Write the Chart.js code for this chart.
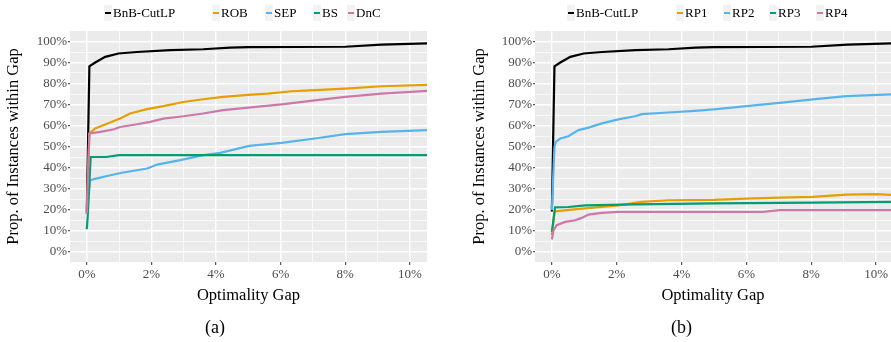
<!DOCTYPE html>
<html>
<head>
<meta charset="utf-8">
<script src="https://cdn.jsdelivr.net/npm/chart.js@4.4.1/dist/chart.umd.min.js"></script>
<style>
    body { margin: 0; width: 891px; height: 342px; position: relative; background: #fff; overflow: hidden;
           font-family: "Liberation Serif", "Times New Roman", serif; }
    canvas { position: absolute; top: 0; }
    .key { position: absolute; top: 5px; width: 8px; height: 16px; background: #f2f2f2; }
    .key i { position: absolute; left: 1px; right: 1px; top: 7px; height: 2.4px; }
    .lab { position: absolute; top: 5px; font-size: 13px; line-height: 16px; color: #000; }
    .cap { position: absolute; top: 316px; font-size: 18px; line-height: 22px; color: #000; }
</style>
</head>
<body>
<canvas id="chartA" width="445" height="342" style="left:0"></canvas>
<canvas id="chartB" width="446" height="342" style="left:445px"></canvas>
<div id="legendA"></div>
<div id="legendB"></div>
<div class="cap" style="left:205px">(a)</div>
<div class="cap" style="left:671px">(b)</div>

<script>
// Data: [optimality gap %, proportion of instances %]
// ----------------------------------------------
const bnbCutLP = [[0,19],[0.08,88.2],[0.26,90],[0.57,92.7],[0.98,94.3],[1.55,95],[2.58,95.9],[3.6,96.3],[4.44,97.1],[5.0,97.3],[8.0,97.5],[9.12,98.5],[10.53,99.1]];

// Panel (a)
const rob = [[0,18],[0.08,56.2],[0.26,58.6],[0.51,60.1],[1.03,63.3],[1.34,65.7],[1.86,67.8],[2.37,69.2],[2.99,71.2],[3.6,72.5],[4.22,73.6],[5.0,74.6],[5.6,75.2],[6.34,76.3],[7.06,76.8],[8.0,77.6],[9.12,78.7],[10.53,79.3]];
const sep = [[0,18],[0.1,34],[0.32,34.8],[0.73,36.3],[1.13,37.6],[1.87,39.5],[2.18,41.4],[2.89,43.5],[3.61,45.9],[4.13,47],[5.03,50.3],[6.03,51.7],[7.06,53.8],[8.0,55.9],[9.12,57],[10.53,57.8]];
const bs  = [[0,10.6],[0.03,17],[0.12,45],[0.6,45],[1.0,45.9],[10.53,45.9]];
const dnc = [[0,18],[0.08,56.2],[0.42,57],[0.84,58.2],[1.03,59.3],[1.55,60.6],[1.96,61.7],[2.37,63.3],[2.99,64.4],[3.6,65.7],[4.22,67.3],[5.0,68.5],[6.03,70.1],[7.06,72],[8.0,73.6],[9.12,75.2],[10.53,76.5]];

// Panel (b)
const rp1 = [[0,7.8],[0.08,18.9],[0.15,19.2],[1.03,20.5],[2.05,22],[2.77,23.6],[3.59,24.4],[5.0,24.6],[6.0,25.2],[7.02,25.7],[8.05,26],[9.08,27.1],[10,27.3],[10.46,27]];
const rp2 = [[0,19.7],[0.08,49.8],[0.12,52.2],[0.26,53.8],[0.51,54.9],[0.82,57.8],[1.13,59],[1.54,61],[2.05,62.9],[2.57,64.4],[2.77,65.4],[3.59,66.2],[4.41,67],[5.0,67.7],[6.0,69.2],[7.02,70.8],[8.05,72.4],[9.08,74],[10.46,74.8]];
const rp3 = [[0,9.3],[0.1,21],[0.51,21.2],[1.03,22],[2.57,22.4],[5.0,22.9],[8.05,23.3],[10.46,23.6]];
const rp4 = [[0,5.7],[0.05,10.1],[0.15,12.5],[0.41,14.1],[0.72,14.9],[0.92,16],[1.13,17.6],[1.54,18.4],[2.05,18.9],[6.5,18.9],[7.02,19.7],[10.46,19.7]];

const labelsA = ['BnB-CutLP', 'ROB', 'SEP', 'BS', 'DnC'];
const labelsB = ['BnB-CutLP', 'RP1', 'RP2', 'RP3', 'RP4'];
const xTicks = [0,1,2,3,4,5,6,7,8,9,10];
const yTicks = [0,5,10,15,20,25,30,35,40,45,50,55,60,65,70,75,80,85,90,95,100];


// Styles
// ----------------------------------------------
const palette   = ['#000000', '#E69F00', '#56B4E9', '#009E73', '#CC79A7'];
const serif     = '"Liberation Serif", "Times New Roman", serif';
const tickGrey  = '#4d4d4d';


// Grey panel behind the plot
const panelBg = {
    id: 'panelBg',
    beforeDraw(chart) {
        const { ctx, chartArea: a } = chart;
        ctx.save();
        ctx.fillStyle = '#ebebeb';
        ctx.fillRect(a.left, a.top, a.right - a.left, a.bottom - a.top);
        ctx.restore();
    }
};


let makePanel = (id, labels, series, xMax, pad, yWidth) => {
    return new Chart(document.getElementById(id), {
        type: 'line',
        data: {
            datasets: series.map((s, i) => ({
                label: labels[i],
                data: s,
                borderColor: palette[i],
                backgroundColor: palette[i],
                borderWidth: 2.2,
                pointRadius: 0,
                tension: 0,
                order: series.length - i
            }))
        },
        options: {
            responsive: false,
            animation: false,
            layout: { padding: pad },
            plugins: {
                legend: { display: false },
                tooltip: { enabled: false }
            },
            scales: {
                x: {
                    type: 'linear',
                    min: -0.52,
                    max: xMax,
                    afterBuildTicks: s => { s.ticks = xTicks.map(v => ({ value: v })); },
                    afterFit: s => { s.height = 44; },
                    border: { display: false },
                    grid: {
                        color: '#ffffff',
                        lineWidth: c => (c.tick && c.tick.value % 2 === 0) ? 1.4 : 0.7,
                        tickLength: 3,
                        tickColor: c => (c.tick && c.tick.value % 2 === 0) ? '#333333' : 'rgba(0,0,0,0)',
                        tickWidth: 1
                    },
                    ticks: {
                        padding: 2,
                        color: tickGrey,
                        font: { family: serif, size: 13 },
                        maxRotation: 0,
                        autoSkip: false,
                        callback: v => v % 2 === 0 ? v + '%' : ''
                    },
                    title: {
                        display: true,
                        text: 'Optimality Gap',
                        color: '#000',
                        padding: 0,
                        font: { family: serif, size: 16.5 }
                    }
                },
                y: {
                    min: -5,
                    max: 105,
                    afterBuildTicks: s => { s.ticks = yTicks.map(v => ({ value: v })); },
                    afterFit: s => { s.width = yWidth; },
                    border: { display: false },
                    grid: {
                        color: '#ffffff',
                        lineWidth: c => (c.tick && c.tick.value % 10 === 0) ? 1.4 : 0.7,
                        tickLength: 2,
                        tickColor: c => (c.tick && c.tick.value % 10 === 0) ? '#333333' : 'rgba(0,0,0,0)',
                        tickWidth: 1
                    },
                    ticks: {
                        padding: 1,
                        color: tickGrey,
                        font: { family: serif, size: 13 },
                        autoSkip: false,
                        callback: v => v % 10 === 0 ? v + '%' : ''
                    },
                    title: {
                        display: true,
                        text: 'Prop. of Instances within Gap',
                        color: '#000',
                        padding: 0,
                        font: { family: serif, size: 16.5 }
                    }
                }
            }
        },
        plugins: [panelBg]
    });
};


// Legend row above each panel
// ----------------------------------------------
let makeLegend = (id, labels, keyLeft) => {
    const box = document.getElementById(id);
    labels.forEach((name, i) => {
        const key = document.createElement('div');
        key.className = 'key';
        key.style.left = keyLeft[i] + 'px';
        key.innerHTML = '<i style="background:' + palette[i] + '"></i>';
        const txt = document.createElement('div');
        txt.className = 'lab';
        txt.style.left = (keyLeft[i] + 9) + 'px';
        txt.textContent = name;
        box.appendChild(key);
        box.appendChild(txt);
    });
};

makeLegend('legendA', labelsA, [104, 212, 265, 313, 347]);
makeLegend('legendB', labelsB, [567, 676, 723, 769, 816]);

makePanel('chartA', labelsA, [bnbCutLP, rob, sep, bs, dnc], 10.53, { left: 4, top: 31, right: 18, bottom: 36 }, 66);
makePanel('chartB', labelsB, [bnbCutLP, rp1, rp2, rp3, rp4], 10.46, { left: 25, top: 31, right: 0, bottom: 36 }, 65);
</script>
</body>
</html>
